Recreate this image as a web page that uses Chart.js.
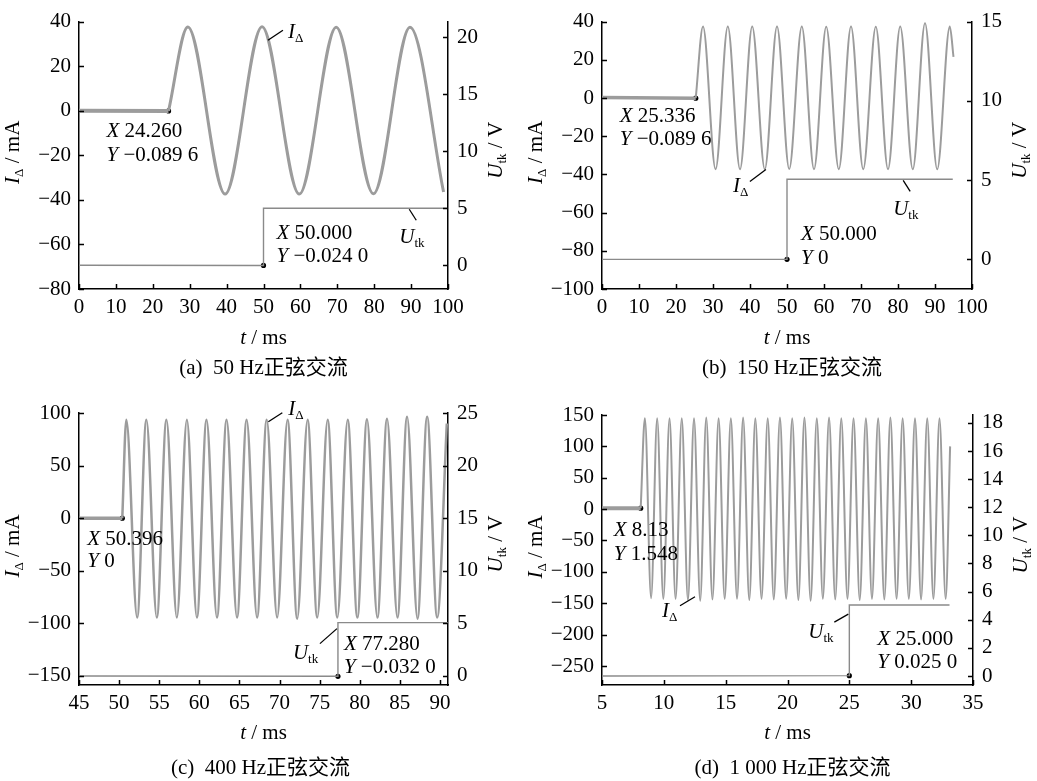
<!DOCTYPE html>
<html><head><meta charset="utf-8">
<script src="https://cdn.jsdelivr.net/npm/chart.js@4/dist/chart.umd.min.js"></script>
<style>
html,body{margin:0;padding:0;background:#fff;}
#wrap{position:relative;width:1037px;height:781px;overflow:hidden;}
canvas{position:absolute;}
</style></head><body>
<div id="wrap">
<canvas id="cA" width="519" height="390" style="left:0;top:0"></canvas>
<canvas id="cB" width="518" height="390" style="left:519px;top:0"></canvas>
<canvas id="cC" width="519" height="391" style="left:0;top:390px"></canvas>
<canvas id="cD" width="518" height="391" style="left:519px;top:390px"></canvas>
</div>
<script>
// ---------- (a) 50 Hz ----------
const tA_pre = [0, 24.26];
const iA_pre = [0, -0.0896];
const tA_I = [24.26, 29.5, 39.6, 49.6, 59.7, 69.7, 79.8, 89.7, 98.8];
const iA_I = [-0.0896, 37.6, -37.4, 37.7, -37.4, 37.5, -37.3, 37.5, -36.5];
const tA_U = [0, 50, 50, 99.7];
const uA_U = [0, -0.024, 5.0, 5.0];
const markA_I = [24.26, -0.0896];
const markA_U = [50.0, -0.024];
const xTicksA = [0, 10, 20, 30, 40, 50, 60, 70, 80, 90, 100];
const yITicksA = [-80, -60, -40, -20, 0, 20, 40];
const yUTicksA = [0, 5, 10, 15, 20];

// ---------- (b) 150 Hz ----------
const tB_pre = [0, 25.336];
const iB_pre = [0.3, -0.0896];
const tB_I = [25.336, 27.3, 30.7, 34.0, 37.3, 40.6, 44.0, 47.3, 50.6, 54.0, 57.3, 60.6, 64.0, 67.3, 70.6, 74.0, 77.3, 80.6, 84.0, 87.3, 90.6, 94.0, 95.0];
const iB_I = [-0.0896, 37.4, -37.3, 37.4, -37.3, 37.5, -37.3, 37.4, -37.2, 37.4, -37.3, 37.3, -37.3, 37.4, -37.3, 37.3, -37.3, 37.4, -37.3, 39.2, -37.3, 37.5, 21.5];
const tB_U = [0, 50, 50, 94.8];
const uB_U = [0, 0, 5.05, 5.05];
const markB_I = [25.336, -0.0896];
const markB_U = [50.0, 0];
const xTicksB = [0, 10, 20, 30, 40, 50, 60, 70, 80, 90, 100];
const yITicksB = [-100, -80, -60, -40, -20, 0, 20, 40];
const yUTicksB = [0, 5, 10, 15];

// ---------- (c) 400 Hz ----------
const tC_pre = [45, 50.396];
const iC_pre = [0, 0];
const tC_I = [50.396, 50.9, 52.25, 53.4, 54.7, 55.9, 57.2, 58.45, 59.7, 60.9, 62.2, 63.4, 64.7, 65.9, 67.2, 68.4, 69.7, 71.0, 72.2, 73.5, 74.7, 76.0, 77.2, 78.5, 79.7, 80.9, 82.2, 83.4, 84.7, 85.9, 87.2, 88.4, 89.65, 90.85];
const iC_I = [0, 93.5, -94.5, 93.5, -94.5, 93.5, -94.5, 93.5, -94.5, 93.5, -94.5, 93.5, -94.5, 93.5, -94.5, 93.5, -94.5, 93.5, -95.5, 93.5, -94.5, 93.5, -94.5, 93.5, -94.5, 94, -94.5, 94.5, -94.5, 96.5, -95.5, 96.5, -94.5, 90];
const tC_U = [45, 77.28, 77.28, 91];
const uC_U = [0, -0.032, 5.07, 5.07];
const markC_I = [50.396, 0];
const markC_U = [77.28, -0.032];
const xTicksC = [45, 50, 55, 60, 65, 70, 75, 80, 85, 90];
const yITicksC = [-150, -100, -50, 0, 50, 100];
const yUTicksC = [0, 5, 10, 15, 20, 25];

// ---------- (d) 1 000 Hz ----------
const tD_pre = [5, 8.13];
const iD_pre = [1.5, 1.548];
const tD_I = [8.13, 8.47, 8.97, 9.46, 9.96, 10.46, 10.95, 11.45, 11.95, 12.44, 12.94, 13.43, 13.93, 14.43, 14.92, 15.42, 15.92, 16.41, 16.91, 17.40, 17.90, 18.40, 18.89, 19.39, 19.89, 20.38, 20.88, 21.37, 21.87, 22.37, 22.86, 23.36, 23.86, 24.35, 24.85, 25.34, 25.84, 26.34, 26.83, 27.33, 27.83, 28.32, 28.82, 29.31, 29.81, 30.31, 30.80, 31.30, 31.80, 32.29, 32.79, 33.15];
const iD_I = [1.548, 145, -142, 145, -143, 145, -143, 145, -145, 145, -146, 146, -144, 145, -143, 145, -143, 146, -145, 145, -143, 145, -144, 146, -143, 145, -145, 146, -146, 145, -143, 146, -144, 145, -143, 145, -145, 145, -143, 145, -144, 146, -143, 145, -143, 145, -144, 145, -143, 145, -143, 100];
const tD_U = [5, 25, 25, 33.1];
const uD_U = [0, 0.025, 5.05, 5.05];
const markD_I = [8.13, 1.548];
const markD_U = [25.0, 0.025];
const xTicksD = [5, 10, 15, 20, 25, 30, 35];
const yITicksD = [-250, -200, -150, -100, -50, 0, 50, 100, 150];
const yUTicksD = [0, 2, 4, 6, 8, 10, 12, 14, 16, 18];

// ---------- drawing ----------
const SERIF = '"Liberation Serif","Noto Sans CJK SC",serif';
const GRAY = '#9c9c9c';
const UGRAY = '#8a8a8a';
const MINUS = '\u2212';

function pts(ts, vs) { return ts.map((t, i) => ({ x: t, y: vs[i] })); }
function fnt(size, italic) { return (italic ? 'italic ' : '') + size + 'px ' + SERIF; }

function drawRich(ctx, segs, x, y, align, size) {
  size = size || 21;
  let w = 0;
  const items = segs.map(([t, st]) => {
    const f = st === 's' ? fnt(Math.round(size * 0.64), false) : fnt(size, st === 'i');
    ctx.font = f;
    const m = ctx.measureText(t).width;
    w += m;
    return { t, f, w: m, dy: st === 's' ? size * 0.3 : 0 };
  });
  let cx = align === 'center' ? x - w / 2 : x;
  ctx.textBaseline = 'middle';
  ctx.textAlign = 'left';
  items.forEach(it => { ctx.font = it.f; ctx.fillText(it.t, cx, y + it.dy); cx += it.w; });
}

const ISEG = [['I', 'i'], ['\u0394', 's']];
const USEG = [['U', 'i'], ['tk', 's']];

const inkPlugin = {
  id: 'ink',
  afterDraw(chart, args, o) {
    const ctx = chart.ctx, ca = chart.chartArea, S = chart.scales;
    ctx.save();
    ctx.strokeStyle = '#000';
    ctx.lineWidth = 1.5;
    ctx.beginPath();
    S.x.ticks.forEach(t => { const p = Math.round(S.x.getPixelForValue(t.value)) + 0.5; ctx.moveTo(p, ca.bottom); ctx.lineTo(p, ca.bottom - 5); });
    S.yI.ticks.forEach(t => { const p = Math.round(S.yI.getPixelForValue(t.value)) + 0.5; ctx.moveTo(ca.left, p); ctx.lineTo(ca.left + 5, p); });
    S.yU.ticks.forEach(t => { const p = Math.round(S.yU.getPixelForValue(t.value)) + 0.5; ctx.moveTo(ca.right, p); ctx.lineTo(ca.right - 5, p); });
    ctx.stroke();
    ctx.fillStyle = '#000';
    const midY = (ca.top + ca.bottom) / 2, midX = (ca.left + ca.right) / 2;
    // axis titles
    ctx.save(); ctx.translate(ca.left - 66, midY - 3); ctx.rotate(-Math.PI / 2);
    drawRich(ctx, [['I', 'i'], ['\u0394', 's'], [' / mA', '']], 0, 0, 'center', 21); ctx.restore();
    ctx.save(); ctx.translate(ca.right + 48, midY - 5); ctx.rotate(-Math.PI / 2);
    drawRich(ctx, [['U', 'i'], ['tk', 's'], [' / V', '']], 0, 0, 'center', 21); ctx.restore();
    drawRich(ctx, [['t', 'i'], [' / ms', '']], midX, ca.bottom + o.xtDy, 'center', 21);
    // caption
    ctx.font = '21px ' + SERIF; ctx.textAlign = 'center'; ctx.textBaseline = 'middle';
    ctx.fillText(o.caption, midX + o.capDx, ca.bottom + o.capDy);
    // annotations
    const px = (a, ax) => [S.x.getPixelForValue(a[0]), S[ax].getPixelForValue(a[1])];
    ctx.lineWidth = 1.3;
    (o.leaders || []).forEach(l => {
      const [x0, y0] = px(l.at, l.ax);
      ctx.beginPath(); ctx.moveTo(x0 + l.x1, y0 + l.y1); ctx.lineTo(x0 + l.x2, y0 + l.y2); ctx.stroke();
    });
    (o.texts || []).forEach(tx => {
      const [x0, y0] = px(tx.at, tx.ax);
      drawRich(ctx, tx.segs, x0 + tx.dx, y0 + tx.dy, 'left', 21);
    });
    ctx.restore();
  }
};

function axisCommon(ticksArr, min, max, pos, pad, size) {
  return {
    type: 'linear', position: pos, min: min, max: max,
    grid: { display: false, drawTicks: false },
    border: { display: true, color: '#000', width: 1.5 },
    ticks: {
      color: '#000', padding: pad, autoSkip: false, maxRotation: 0,
      font: { family: SERIF, size: 21 },
      callback: v => String(v).replace('-', MINUS)
    },
    afterBuildTicks: s => { s.ticks = ticksArr.map(v => ({ value: v })); },
    afterFit: s => { if (pos === 'bottom') s.height = size; else s.width = size; }
  };
}

function makeChart(id, c) {
  const datasets = [
    { data: pts(c.tPre, c.iPre), yAxisID: 'yI', borderColor: GRAY, borderWidth: c.preW, pointRadius: 0, tension: 0 },
    { data: pts(c.tI, c.iI), yAxisID: 'yI', borderColor: GRAY, borderWidth: c.iW, pointRadius: 0, cubicInterpolationMode: 'monotone' },
    { data: pts(c.tU, c.uU), yAxisID: 'yU', borderColor: UGRAY, borderWidth: 1.4, pointRadius: 0, tension: 0 },
    { data: [{ x: c.mI[0], y: c.mI[1] }], yAxisID: 'yI', showLine: false, pointRadius: 2.6, pointBackgroundColor: '#000', pointBorderWidth: 0 },
    { data: [{ x: c.mU[0], y: c.mU[1] }], yAxisID: 'yU', showLine: false, pointRadius: 2.6, pointBackgroundColor: '#000', pointBorderWidth: 0 }
  ];
  return new Chart(document.getElementById(id), {
    type: 'line',
    data: { datasets },
    options: {
      responsive: false, animation: false, devicePixelRatio: 1,
      layout: { padding: { top: c.top, left: 0, right: 0, bottom: 0 } },
      plugins: { legend: { display: false }, tooltip: { enabled: false }, ink: c.ink },
      scales: {
        x: axisCommon(c.xT, c.xMin, c.xMax, 'bottom', 6, c.xH),
        yI: axisCommon(c.yIT, c.yIMin, c.yIMax, 'left', 8, c.lW),
        yU: axisCommon(c.yUT, c.yUMin, c.yUMax, 'right', 9, c.rW)
      }
    },
    plugins: [inkPlugin]
  });
}

makeChart('cA', {
  tPre: tA_pre, iPre: iA_pre, tI: tA_I, iI: iA_I, tU: tA_U, uU: uA_U, mI: markA_I, mU: markA_U,
  preW: 4, iW: 3,
  xT: xTicksA, xMin: 0, xMax: 100, yIT: yITicksA, yIMin: -80, yIMax: 40, yUT: yUTicksA, yUMin: -2.09, yUMax: 21.39,
  top: 19, xH: 101, lW: 79, rW: 71,
  ink: {
    caption: '(a)  50 Hz正弦交流', capDx: 0, capDy: 79, xtDy: 49,
    texts: [
      { at: markA_I, ax: 'yI', dx: -62, dy: 21, segs: [['X', 'i'], [' 24.260', '']] },
      { at: markA_I, ax: 'yI', dx: -62, dy: 45, segs: [['Y', 'i'], [' ' + MINUS + '0.089 6', '']] },
      { at: markA_U, ax: 'yU', dx: 13, dy: -32, segs: [['X', 'i'], [' 50.000', '']] },
      { at: markA_U, ax: 'yU', dx: 13, dy: -9, segs: [['Y', 'i'], [' ' + MINUS + '0.024 0', '']] },
      { at: [51.2, 31.6], ax: 'yI', dx: 20, dy: -8, segs: ISEG },
      { at: [89.5, 5], ax: 'yU', dx: -10, dy: 29, segs: USEG }
    ],
    leaders: [
      { at: [51.2, 31.6], ax: 'yI', x1: 0, y1: 0, x2: 15, y2: -10 },
      { at: [89.5, 5], ax: 'yU', x1: 0, y1: 1, x2: 7, y2: 12 }
    ]
  }
});

makeChart('cB', {
  tPre: tB_pre, iPre: iB_pre, tI: tB_I, iI: iB_I, tU: tB_U, uU: uB_U, mI: markB_I, mU: markB_U,
  preW: 3.5, iW: 2,
  xT: xTicksB, xMin: 0, xMax: 100, yIT: yITicksB, yIMin: -100, yIMax: 40, yUT: yUTicksB, yUMin: -1.87, yUMax: 15,
  top: 18, xH: 101, lW: 83, rW: 65,
  ink: {
    caption: '(b)  150 Hz正弦交流', capDx: 5, capDy: 79, xtDy: 49,
    texts: [
      { at: markB_I, ax: 'yI', dx: -76, dy: 18, segs: [['X', 'i'], [' 25.336', '']] },
      { at: markB_I, ax: 'yI', dx: -76, dy: 41, segs: [['Y', 'i'], [' ' + MINUS + '0.089 6', '']] },
      { at: markB_U, ax: 'yU', dx: 14, dy: -25, segs: [['X', 'i'], [' 50.000', '']] },
      { at: markB_U, ax: 'yU', dx: 14, dy: -1, segs: [['Y', 'i'], [' 0', '']] },
      { at: [44.3, -37.4], ax: 'yI', dx: -33, dy: 17, segs: ISEG },
      { at: [81.4, 5.05], ax: 'yU', dx: -10, dy: 30, segs: USEG }
    ],
    leaders: [
      { at: [44.3, -37.4], ax: 'yI', x1: 0, y1: 0, x2: -16, y2: 12 },
      { at: [81.4, 5.05], ax: 'yU', x1: 0, y1: 1, x2: 7, y2: 12 }
    ]
  }
});

makeChart('cC', {
  tPre: tC_pre, iPre: iC_pre, tI: tC_I, iI: iC_I, tU: tC_U, uU: uC_U, mI: markC_I, mU: markC_U,
  preW: 3.5, iW: 2.5,
  xT: xTicksC, xMin: 45, xMax: 91, yIT: yITicksC, yIMin: -158.6, yIMax: 100, yUT: yUTicksC, yUMin: -0.86, yUMax: 25,
  top: 23, xH: 96, lW: 79, rW: 71,
  ink: {
    caption: '(c)  400 Hz正弦交流', capDx: -3, capDy: 83, xtDy: 48,
    texts: [
      { at: markC_I, ax: 'yI', dx: -35, dy: 21, segs: [['X', 'i'], [' 50.396', '']] },
      { at: markC_I, ax: 'yI', dx: -35, dy: 43, segs: [['Y', 'i'], [' 0', '']] },
      { at: markC_U, ax: 'yU', dx: 6, dy: -32, segs: [['X', 'i'], [' 77.280', '']] },
      { at: markC_U, ax: 'yU', dx: 6, dy: -9, segs: [['Y', 'i'], [' ' + MINUS + '0.032 0', '']] },
      { at: [68.6, 91.7], ax: 'yI', dx: 20, dy: -12, segs: ISEG },
      { at: [77.28, 4.5], ax: 'yU', dx: -45, dy: 25, segs: USEG }
    ],
    leaders: [
      { at: [68.6, 91.7], ax: 'yI', x1: 0, y1: 0, x2: 14, y2: -9 },
      { at: [77.28, 4.5], ax: 'yU', x1: -1, y1: 0, x2: -18, y2: 15 }
    ]
  }
});

makeChart('cD', {
  tPre: tD_pre, iPre: iD_pre, tI: tD_I, iI: iD_I, tU: tD_U, uU: uD_U, mI: markD_I, mU: markD_U,
  preW: 4, iW: 2,
  xT: xTicksD, xMin: 5, xMax: 35, yIT: yITicksD, yIMin: -280.3, yIMax: 150, yUT: yUTicksD, yUMin: -0.64, yUMax: 18.56,
  top: 25, xH: 96, lW: 83, rW: 64,
  ink: {
    caption: '(d)  1 000 Hz正弦交流', capDx: 5, capDy: 83, xtDy: 48,
    texts: [
      { at: markD_I, ax: 'yI', dx: -27, dy: 22, segs: [['X', 'i'], [' 8.13', '']] },
      { at: markD_I, ax: 'yI', dx: -27, dy: 46, segs: [['Y', 'i'], [' 1.548', '']] },
      { at: markD_U, ax: 'yU', dx: 28, dy: -36, segs: [['X', 'i'], [' 25.000', '']] },
      { at: markD_U, ax: 'yU', dx: 28, dy: -13, segs: [['Y', 'i'], [' 0.025 0', '']] },
      { at: [12.52, -139.6], ax: 'yI', dx: -33, dy: 15, segs: ISEG },
      { at: [25, 4.4], ax: 'yU', dx: -41, dy: 18, segs: USEG }
    ],
    leaders: [
      { at: [12.52, -139.6], ax: 'yI', x1: 0, y1: 0, x2: -15, y2: 9 },
      { at: [25, 4.4], ax: 'yU', x1: -1, y1: 0, x2: -15, y2: 8 }
    ]
  }
});
</script>
</body></html>
